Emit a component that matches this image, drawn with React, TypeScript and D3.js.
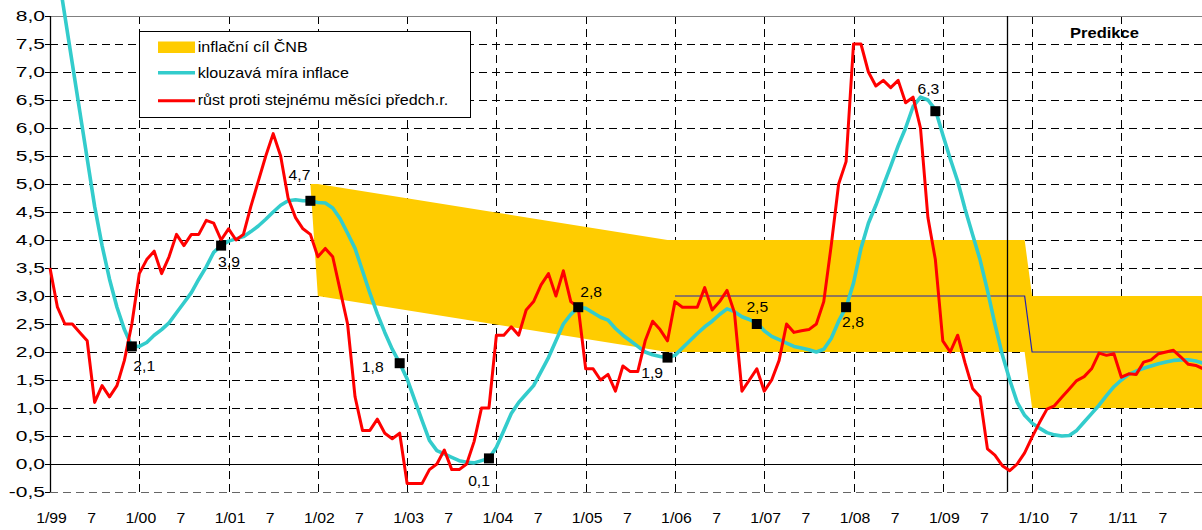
import * as d3 from 'd3';

// month index 0 = 1/1999 ... 155 = 12/2011
const yearLabels = ['99', '00', '01', '02', '03', '04', '05', '06', '07', '08', '09', '10', '11'];

// růst proti stejnému měsíci předch. roku
const yoyInflation = [
  3.5, 2.8, 2.5, 2.5, 2.35, 2.2, 1.1, 1.4, 1.2, 1.4, 1.85, 2.5,
  3.4, 3.65, 3.8, 3.4, 3.7, 4.1, 3.9, 4.1, 4.1, 4.35, 4.3, 4.0,
  4.2, 4.0, 4.1, 4.6, 5.05, 5.5, 5.9, 5.5, 4.75, 4.4, 4.2, 4.1,
  3.7, 3.85, 3.7, 3.1, 2.5, 1.2, 0.6, 0.6, 0.8, 0.55, 0.45, 0.55,
  -0.35, -0.35, -0.35, -0.1, 0.0, 0.25, -0.1, -0.1, 0.0, 0.4, 1.0, 1.0,
  2.3, 2.3, 2.45, 2.3, 2.75, 2.9, 3.2, 3.4, 3.0, 3.45, 2.9, 2.8,
  1.7, 1.7, 1.5, 1.6, 1.3, 1.75, 1.65, 1.65, 2.2, 2.55, 2.4, 2.2,
  2.9, 2.8, 2.8, 2.8, 3.15, 2.75, 2.9, 3.1, 2.7, 1.3, 1.5, 1.7,
  1.3, 1.5, 1.85, 2.5, 2.35, 2.38, 2.4, 2.5, 2.9, 3.9, 5.0, 5.4,
  7.5, 7.5, 7.0, 6.75, 6.85, 6.72, 6.85, 6.45, 6.55, 6.0, 4.4, 3.65,
  2.2, 2.0, 2.3, 1.8, 1.35, 1.2, 0.27, 0.16, -0.03, -0.12, 0.0, 0.2,
  0.48, 0.74, 0.98, 1.04, 1.19, 1.34, 1.49, 1.56, 1.7, 1.98, 1.94, 1.97,
  1.55, 1.61, 1.6, 1.82, 1.86, 1.97, 2.0, 2.03, 1.91, 1.78, 1.76, 1.7,
];

// klouzavá míra inflace
const movingInflation = [
  9.7, 8.85, 8.0, 7.15, 6.3, 5.45, 4.6, 3.9, 3.3, 2.8, 2.4, 2.1,
  2.1, 2.17, 2.3, 2.4, 2.52, 2.7, 2.88, 3.06, 3.3, 3.52, 3.78, 3.9,
  3.98, 4.02, 4.06, 4.15, 4.25, 4.37, 4.5, 4.62, 4.7, 4.72, 4.7, 4.7,
  4.67, 4.66, 4.57, 4.38, 4.12, 3.85, 3.45, 3.05, 2.68, 2.35, 2.05, 1.8,
  1.52, 1.15, 0.78, 0.42, 0.24, 0.18, 0.12, 0.06, 0.03, 0.02, 0.06, 0.1,
  0.3, 0.6, 0.9, 1.1, 1.25, 1.4, 1.65, 1.9, 2.2, 2.5, 2.67, 2.8,
  2.78, 2.7, 2.62, 2.57, 2.42, 2.3, 2.2, 2.1, 2.0, 1.95, 1.92, 1.9,
  1.94, 2.07, 2.2, 2.33, 2.45, 2.55, 2.67, 2.77, 2.72, 2.63, 2.58, 2.52,
  2.38, 2.28, 2.22, 2.16, 2.1, 2.07, 2.04, 2.0, 2.05, 2.24, 2.55, 2.8,
  3.23, 3.85, 4.3, 4.62, 4.97, 5.32, 5.68, 6.0, 6.38, 6.55, 6.5, 6.33,
  5.88, 5.45, 5.05, 4.55, 4.1, 3.65, 3.1, 2.5, 1.95, 1.5, 1.1, 0.87,
  0.73, 0.64, 0.56, 0.52, 0.5, 0.51, 0.6, 0.75, 0.9, 1.05, 1.22, 1.38,
  1.5, 1.6, 1.66, 1.71, 1.75, 1.79, 1.82, 1.85, 1.86, 1.86, 1.84, 1.8,
];

// inflační cíl ČNB (pásmo), lomové body
const bandMonths = [35, 36, 83, 131, 132, 155];
const bandLow = [5.0, 3.0, 2.0, 2.0, 1.0, 1.0];
const bandHigh = [5.0, 5.0, 4.0, 4.0, 3.0, 3.0];

// bodový cíl
const targetMonths = [84, 131, 132, 155];
const targetValues = [3.0, 3.0, 2.0, 2.0];

// prosincové hodnoty klouzavé míry
const markerMonths = [11, 23, 35, 47, 59, 71, 83, 95, 107, 119];
const markerValues = [2.1, 3.9, 4.7, 1.8, 0.1, 2.8, 1.9, 2.5, 2.8, 6.3];

const predictionStart = 128.6;

// label placement next to each marker: [dx, dy, anchor]
const markerLabelOffsets: [number, number, string][] = [
  [1.5, 25, 'start'],
  [-3, 21.5, 'start'],
  [0, -21, 'end'],
  [-16, 8.5, 'end'],
  [1, 28, 'end'],
  [2, -10, 'start'],
  [-4.5, 20.5, 'end'],
  [0.5, -12, 'middle'],
  [-4, 20, 'start'],
  [-7, -17, 'middle'],
];

const FONT = '"Liberation Sans", Arial, sans-serif';
const fmt = (v: number) => v.toFixed(1).replace('.', ',');

export default function App() {
  const width = 1202;
  const height = 530;
  const left = 50;
  const top = 16;
  const bottom = 492;

  const x = d3.scaleLinear().domain([0, 155]).range([left, 1203.2]);
  const y = d3.scaleLinear().domain([-0.5, 8]).range([bottom, top]);

  const yTicks = d3.range(-0.5, 8.001, 0.5);
  const yearTicks = yearLabels.map((_, k) => k * 12);

  const line = d3
    .line<number>()
    .x((_, i) => x(i))
    .y((d) => y(d));

  const band = d3
    .area<number>()
    .x((m) => x(m))
    .y0((_, i) => y(bandLow[i]))
    .y1((_, i) => y(bandHigh[i]));

  const targetLine = d3
    .line<number>()
    .x((m) => x(m))
    .y((_, i) => y(targetValues[i]));

  const xLabels: { m: number; text: string; dx: number }[] = [];
  yearLabels.forEach((yy, k) => {
    xLabels.push({ m: k * 12, text: `1/${yy}`, dx: 1.5 });
    xLabels.push({ m: k * 12 + 6, text: '7', dx: -3 });
  });

  return (
    <svg
      width={width}
      height={height}
      style={{ position: 'absolute', left: 0, top: 0, background: '#fff' }}
      fontFamily={FONT}
      fontSize={14}
    >
      <rect width={width} height={height} fill="#fff" />

      {/* horizontal gridlines */}
      {yTicks.map((t) =>
        t === 0 || t === 8 ? null : (
          <line
            key={`h${t}`}
            x1={left}
            x2={width}
            y1={Math.round(y(t)) + 0.5}
            y2={Math.round(y(t)) + 0.5}
            stroke={t === -0.5 ? '#666' : '#000'}
            strokeDasharray="8 5"
          />
        )
      )}
      {/* vertical gridlines */}
      {yearTicks.slice(1).map((m) => (
        <line
          key={`v${m}`}
          x1={Math.round(x(m)) + 0.5}
          x2={Math.round(x(m)) + 0.5}
          y1={top}
          y2={bottom}
          stroke="#000"
          strokeDasharray="8 5"
        />
      ))}

      {/* target band */}
      <path d={band(bandMonths) ?? ''} fill="#FFCC00" />

      {/* point target */}
      <path d={targetLine(targetMonths) ?? ''} fill="none" stroke="#2222b0" strokeWidth={1.2} />

      {/* plot frame, zero line, prediction divider */}
      <line x1={left} x2={width} y1={top + 0.5} y2={top + 0.5} stroke="#808080" />
      <line x1={left} x2={width} y1={Math.round(y(0)) + 0.5} y2={Math.round(y(0)) + 0.5} stroke="#000" />
      <line
        x1={Math.round(x(predictionStart)) + 0.5}
        x2={Math.round(x(predictionStart)) + 0.5}
        y1={top}
        y2={bottom}
        stroke="#000"
        strokeWidth={1.3}
      />
      <line x1={left + 0.5} x2={left + 0.5} y1={top} y2={bottom} stroke="#000" strokeWidth={1.3} />
      {yTicks.map((t) => (
        <line
          key={`t${t}`}
          x1={left - 5}
          x2={left}
          y1={Math.round(y(t)) + 0.5}
          y2={Math.round(y(t)) + 0.5}
          stroke="#000"
        />
      ))}

      {/* series */}
      <path
        d={line(movingInflation) ?? ''}
        fill="none"
        stroke="#33CCCC"
        strokeWidth={3.6}
        strokeLinejoin="round"
      />
      <path
        d={line(yoyInflation) ?? ''}
        fill="none"
        stroke="#FF0000"
        strokeWidth={3}
        strokeLinejoin="round"
      />

      {/* december markers */}
      {markerMonths.map((m, i) => {
        const [dx, dy, anchor] = markerLabelOffsets[i];
        const cx = x(m);
        const cy = y(markerValues[i]);
        return (
          <g key={`mk${m}`}>
            <rect x={cx - 5} y={cy - 5} width={10} height={10} fill="#000" />
            <text
              transform={`translate(${cx + dx},${cy + dy}) scale(1.12,1)`}
              textAnchor={anchor}
              fill="#000"
            >
              {fmt(markerValues[i])}
            </text>
          </g>
        );
      })}

      {/* y axis labels */}
      {yTicks.map((t) => (
        <text
          key={`yl${t}`}
          transform={`translate(45,${y(t)}) scale(1.5,1)`}
          textAnchor="end"
          dy="0.36em"
          fill="#000"
        >
          {fmt(t)}
        </text>
      ))}

      {/* x axis labels */}
      {xLabels.map((d) => (
        <text
          key={`xl${d.m}`}
          transform={`translate(${x(d.m) + d.dx},523) scale(1.13,1)`}
          textAnchor="middle"
          fill="#000"
        >
          {d.text}
        </text>
      ))}

      <text
        transform="translate(1104.5,37.5) scale(1.18,1)"
        textAnchor="middle"
        fontWeight="bold"
        fill="#000"
      >
        Predikce
      </text>

      {/* legend */}
      <rect x={139.5} y={31.5} width={331} height={86} fill="#fff" stroke="#000" />
      <rect x={158} y={41.5} width={37} height={11.5} fill="#FFCC00" />
      <line x1={158} x2={195} y1={72.7} y2={72.7} stroke="#33CCCC" strokeWidth={3.6} />
      <line x1={158} x2={195} y1={100.7} y2={100.7} stroke="#FF0000" strokeWidth={3} />
      <text transform="translate(197.7,51.7) scale(1.15,1)">inflační cíl ČNB</text>
      <text transform="translate(197.7,78.3) scale(1.15,1)">klouzavá míra inflace</text>
      <text transform="translate(197.7,105) scale(1.15,1)">růst proti stejnému měsíci předch.r.</text>
    </svg>
  );
}
